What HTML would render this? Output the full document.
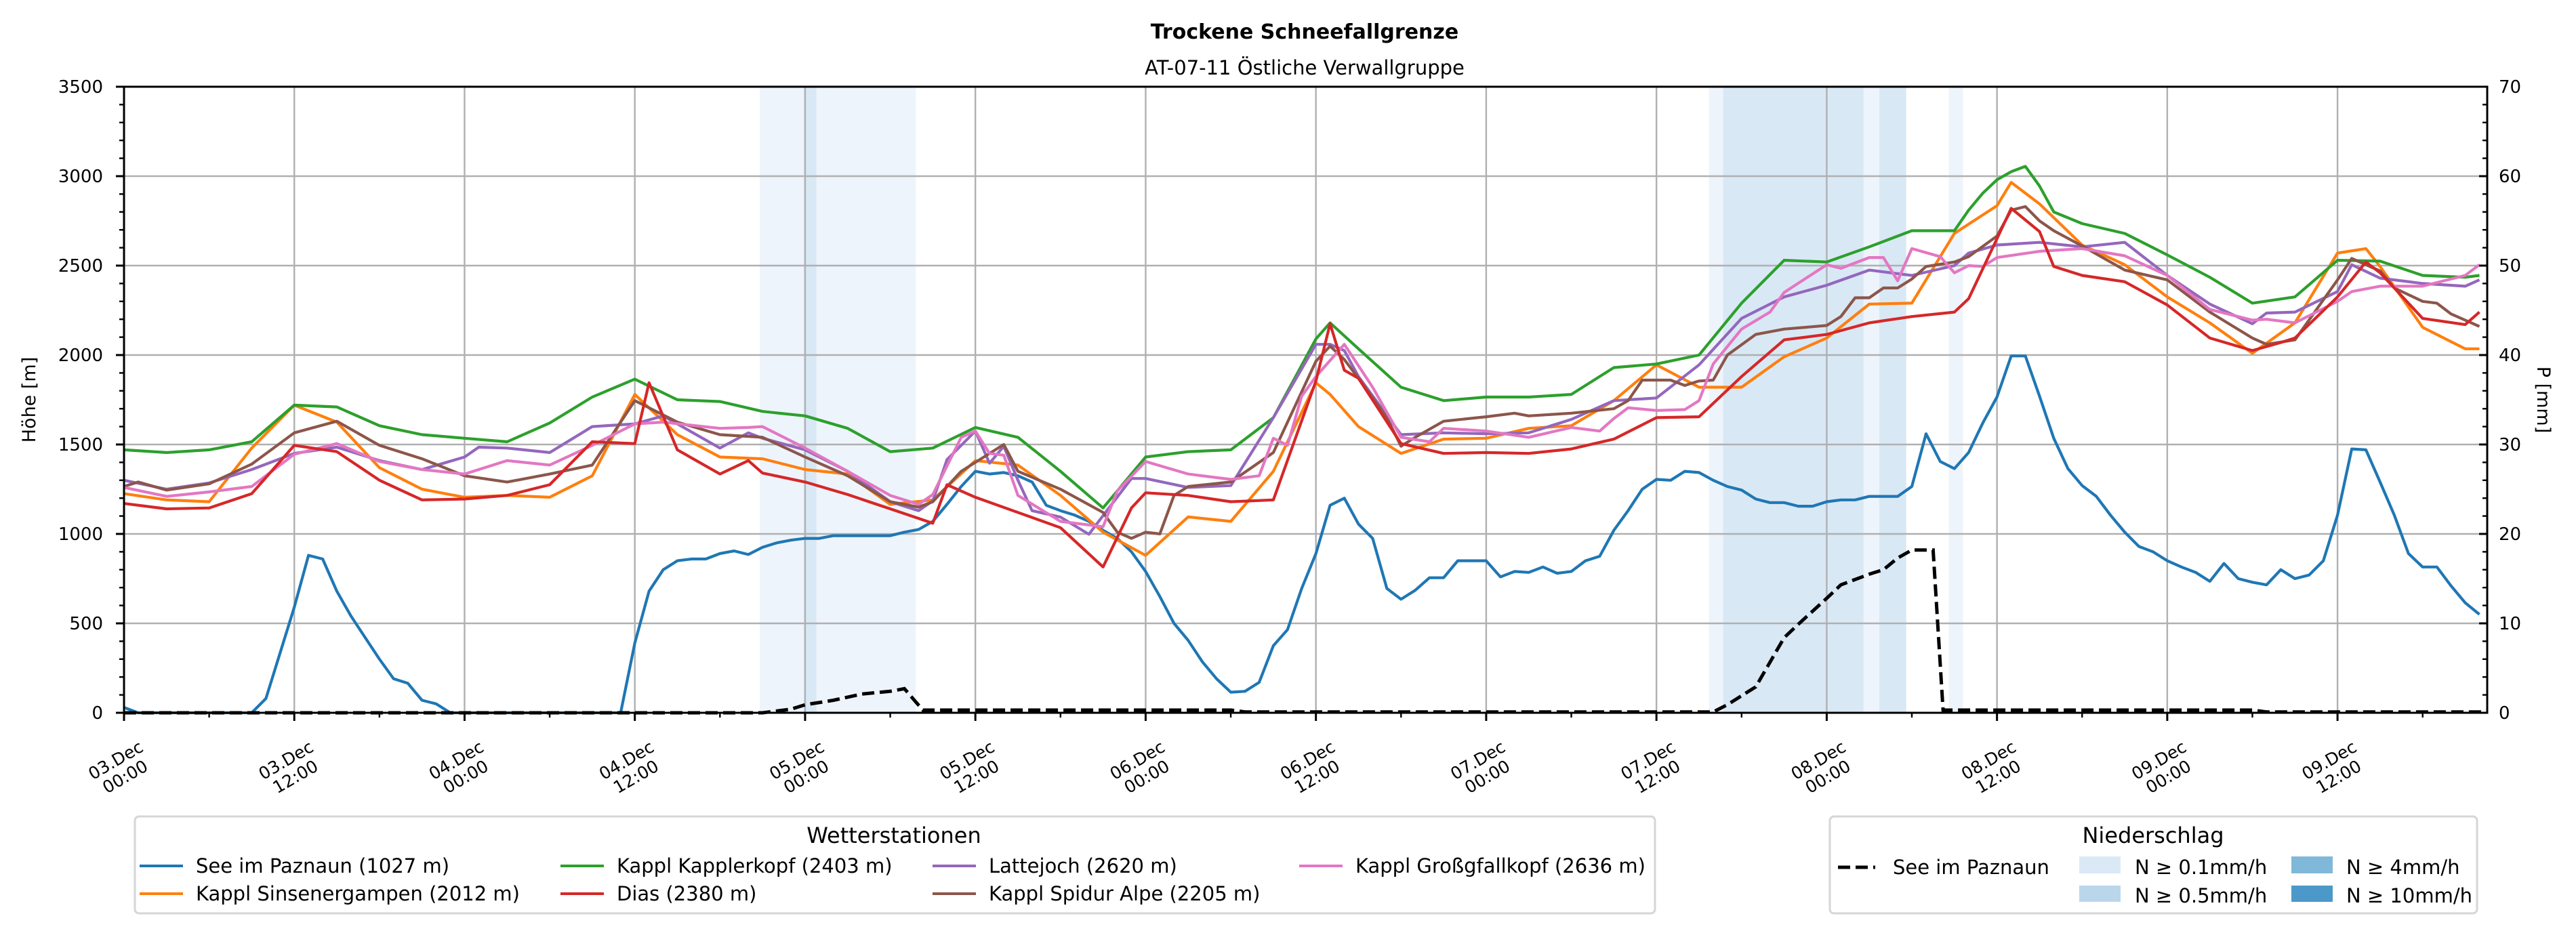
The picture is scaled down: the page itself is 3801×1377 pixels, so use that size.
<!DOCTYPE html>
<html><head><meta charset="utf-8"><style>
html,body{margin:0;padding:0;background:#fff;}
svg{display:block;font-family:"DejaVu Sans","Liberation Sans",sans-serif;}
</style></head><body>
<svg id="chart" width="3801" height="1377" viewBox="0 0 3801 1377" xmlns="http://www.w3.org/2000/svg">
<rect width="3801" height="1377" fill="#fff"/>
<text x="1925" y="57" font-size="30" font-weight="bold" text-anchor="middle">Trockene Schneefallgrenze</text>
<text x="1925" y="110" font-size="29" text-anchor="middle">AT-07-11 Östliche Verwallgruppe</text>
<g id="bands"></g><g id="grid"></g><g id="series"></g><g id="axes"></g>
<text transform="translate(52,590) rotate(-90)" font-size="27" text-anchor="middle">Höhe [m]</text>
<text transform="translate(3744,590) rotate(90)" font-size="27" text-anchor="middle">P [mm]</text>
<g>
<rect x="199" y="1205" width="2243" height="143" rx="6" fill="#fff" stroke="#d6d6d6" stroke-width="3"/>
<text x="1319" y="1244" font-size="32" text-anchor="middle">Wetterstationen</text>
<g font-size="29">
<line x1="206" y1="1278" x2="270" y2="1278" stroke="#1f77b4" stroke-width="4"/><text x="289" y="1288">See im Paznaun (1027 m)</text>
<line x1="206" y1="1319" x2="270" y2="1319" stroke="#ff7f0e" stroke-width="4"/><text x="289" y="1329">Kappl Sinsenergampen (2012 m)</text>
<line x1="827" y1="1278" x2="891" y2="1278" stroke="#2ca02c" stroke-width="4"/><text x="910" y="1288">Kappl Kapplerkopf (2403 m)</text>
<line x1="827" y1="1319" x2="891" y2="1319" stroke="#d62728" stroke-width="4"/><text x="910" y="1329">Dias (2380 m)</text>
<line x1="1376" y1="1278" x2="1440" y2="1278" stroke="#9467bd" stroke-width="4"/><text x="1459" y="1288">Lattejoch (2620 m)</text>
<line x1="1376" y1="1319" x2="1440" y2="1319" stroke="#8c564b" stroke-width="4"/><text x="1459" y="1329">Kappl Spidur Alpe (2205 m)</text>
<line x1="1917" y1="1278" x2="1981" y2="1278" stroke="#e377c2" stroke-width="4"/><text x="2000" y="1288">Kappl Großgfallkopf (2636 m)</text>
</g></g>
<g>
<rect x="2700" y="1205" width="955" height="143" rx="6" fill="#fff" stroke="#d6d6d6" stroke-width="3"/>
<text x="3177" y="1244" font-size="32" text-anchor="middle">Niederschlag</text>
<g font-size="29">
<line x1="2712" y1="1280" x2="2767" y2="1280" stroke="#000" stroke-width="5" stroke-dasharray="18 8"/><text x="2793" y="1290">See im Paznaun</text>
<rect x="3068" y="1264" width="61" height="25" fill="#dbe9f6"/><text x="3150" y="1290">N ≥ 0.1mm/h</text>
<rect x="3068" y="1307" width="61" height="24" fill="#bad6eb"/><text x="3150" y="1332">N ≥ 0.5mm/h</text>
<rect x="3381" y="1264" width="61" height="25" fill="#80b8da"/><text x="3462" y="1290">N ≥ 4mm/h</text>
<rect x="3381" y="1307" width="61" height="24" fill="#4b98c9"/><text x="3462" y="1332">N ≥ 10mm/h</text>
</g></g>
</svg>
<script>
const blueV = [30,0,0,0,0,0,0,0,0,0,80,335,590,880,860,680,540,420,300,190,165,70,50,0,0,0,0,0,0,0,0,0,0,0,0,0,390,680,800,850,860,860,890,905,885,925,950,965,975,975,990,990,990,990,990,1010,1025,1070,1165,1265,1350,1335,1343,1325,1290,1160,1130,1105,1070,1020,975,900,790,650,500,405,285,190,115,120,170,375,465,695,890,1160,1200,1055,975,695,635,685,755,755,850,850,850,760,790,785,815,780,790,850,875,1020,1130,1250,1305,1300,1350,1343,1300,1265,1245,1195,1175,1175,1155,1155,1180,1190,1190,1210,1210,1210,1265,1560,1405,1365,1455,1620,1765,1995,1995,1770,1535,1365,1270,1210,1105,1010,930,900,850,815,785,735,835,750,730,715,800,750,770,850,1105,1475,1470,1290,1105,890,815,815,710,615,550];
const greenH = [0,3,6,9,12,15,18,21,24,27,30,33,36,39,42,45,48,51,54,57,60,63,66,69,72,75,78,81,84,85,87,90,93,96,99,102,105,108,111,114,117,120,123,126,129,130,131,132,133,134,135,136,138,141,144,147,150,153,156,159,162,165,166];
const greenV = [1470,1455,1470,1515,1720,1710,1605,1555,1535,1515,1620,1765,1865,1750,1740,1685,1660,1590,1460,1480,1595,1540,1350,1145,1430,1460,1470,1650,2090,2180,2035,1820,1745,1765,1765,1780,1930,1950,2000,2290,2530,2520,2605,2695,2695,2810,2905,2980,3025,3055,2945,2800,2735,2680,2560,2435,2290,2325,2530,2525,2445,2435,2445];
const orangeH = [0,3,6,9,12,15,18,21,24,27,30,33,36,39,42,45,48,51,54,57,60,63,66,69,72,75,78,81,84,85,87,90,93,96,99,102,105,108,111,114,117,120,123,126,129,132,133,135,138,141,144,147,150,153,156,158,159,162,165,166];
const orangeV = [1225,1190,1180,1480,1720,1625,1370,1250,1205,1215,1205,1325,1780,1555,1430,1420,1360,1335,1165,1190,1410,1385,1215,1010,880,1095,1070,1350,1845,1780,1600,1450,1530,1535,1590,1605,1745,1945,1820,1820,1990,2095,2285,2290,2680,2835,2965,2845,2615,2505,2325,2180,2010,2180,2570,2595,2495,2155,2035,2035];
const redH = [0,3,6,9,12,15,18,21,24,27,30,33,36,37,39,42,44,45,48,51,54,57,58,60,63,66,69,71,72,75,78,81,84,85,86,87,90,93,96,99,102,105,108,111,114,117,120,123,126,129,130,132,133,135,136,138,141,144,147,150,152,153,156,158,159,162,165,166];
const redV = [1170,1140,1145,1225,1495,1460,1300,1190,1195,1215,1275,1515,1505,1845,1470,1335,1410,1340,1290,1220,1140,1060,1275,1205,1120,1035,815,1145,1230,1215,1180,1190,1855,2175,1915,1870,1505,1450,1455,1450,1475,1530,1650,1655,1880,2085,2115,2180,2215,2240,2315,2650,2820,2690,2495,2445,2410,2280,2095,2025,2070,2095,2325,2520,2460,2205,2170,2240];
const purpleH = [0,3,6,9,12,15,18,21,24,25,27,30,33,36,38,42,44,45,48,51,54,56,57,58,60,61,62,63,64,66,68,71,72,75,78,81,84,85,86,87,90,93,96,99,102,105,108,111,114,117,120,123,126,129,130,132,135,138,141,144,147,150,151,153,156,157,159,162,165,166];
const purpleV = [1300,1250,1285,1360,1450,1485,1410,1360,1430,1485,1480,1455,1600,1615,1660,1480,1565,1535,1470,1350,1180,1130,1185,1415,1575,1395,1490,1300,1130,1094,998,1310,1310,1260,1270,1650,2060,2060,2025,1880,1555,1565,1560,1565,1640,1745,1760,1945,2205,2325,2390,2475,2445,2500,2570,2615,2630,2605,2630,2445,2285,2175,2235,2240,2355,2505,2430,2400,2385,2420];
const brownH = [0,1,3,6,9,12,15,18,21,24,27,30,33,36,39,42,45,48,51,54,56,57,59,60,62,63,66,69,70,71,72,73,74,75,78,81,84,85,86,87,89,90,91,93,96,98,99,102,105,106,107,108,109,110,111,112,113,115,117,120,121,122,123,124,125,126,127,129,130,132,133,134,135,136,138,141,144,147,150,151,153,156,157,159,160,162,163,164,165,166];
const brownV = [1265,1290,1245,1280,1390,1565,1630,1495,1420,1325,1290,1335,1385,1745,1625,1555,1540,1430,1325,1180,1150,1180,1350,1400,1500,1350,1250,1120,1010,975,1010,1000,1215,1265,1290,1455,1965,2050,1975,1870,1650,1490,1540,1630,1655,1675,1660,1675,1700,1745,1860,1860,1860,1830,1855,1860,2000,2115,2145,2165,2215,2320,2320,2375,2375,2425,2495,2520,2550,2665,2810,2830,2750,2695,2610,2475,2420,2240,2095,2060,2085,2420,2540,2470,2375,2300,2290,2230,2195,2160];
const pinkH = [0,3,6,9,12,15,18,21,24,27,30,33,36,38,42,44,45,48,51,54,56,57,59,60,61,62,63,66,69,70,72,75,78,80,81,82,83,84,86,87,88,90,92,93,96,99,102,104,105,106,108,110,111,112,114,116,117,120,121,123,124,125,126,128,129,130,131,132,135,138,141,144,147,150,151,153,156,157,159,162,165,166];
const pinkV = [1260,1210,1235,1265,1445,1505,1405,1360,1335,1410,1385,1495,1615,1625,1590,1595,1600,1480,1350,1215,1165,1220,1540,1575,1450,1440,1215,1070,1040,1240,1405,1335,1305,1325,1535,1495,1770,1880,2060,1940,1820,1540,1515,1590,1575,1540,1595,1575,1645,1705,1690,1695,1745,1950,2145,2240,2350,2505,2485,2545,2545,2415,2595,2550,2460,2500,2495,2545,2580,2595,2555,2445,2255,2195,2200,2180,2300,2355,2385,2385,2445,2505];
const precipH = [0,45,47,48,50,52,54,55,56.3,78,79,111,112,113,115,117,118,120,121,123,124,125,126,127.5,128.2,150,151,166.6];
const precipV = [0,0,0.4,0.9,1.4,2.1,2.4,2.7,0.3,0.3,0.1,0.1,0.1,0.9,2.9,8.4,9.9,12.8,14.3,15.5,16,17.3,18.2,18.2,0.3,0.3,0.1,0.1];
const bandStart = [44.8,47.9,111.7,112.7,122.6,123.7,128.6];
const bandEnd = [55.8,48.8,112.7,122.6,123.7,125.6,129.6];
const bandLevel = [0,1,0,1,0,1,0];
const yTicks = [0,500,1000,1500,2000,2500,3000,3500];
const y2Ticks = [0,10,20,30,40,50,60,70];
const xTickLabels = [["03.Dec","00:00"],["03.Dec","12:00"],["04.Dec","00:00"],["04.Dec","12:00"],["05.Dec","00:00"],["05.Dec","12:00"],["06.Dec","00:00"],["06.Dec","12:00"],["07.Dec","00:00"],["07.Dec","12:00"],["08.Dec","00:00"],["08.Dec","12:00"],["09.Dec","00:00"],["09.Dec","12:00"]];

const X0=183, X1=3670, Y0=1052, Y1=128, HMAX=166.55;
const NS='http://www.w3.org/2000/svg';
function xs(h){return X0+(h/HMAX)*(X1-X0);}
function ys(v){return Y0-(v/3500)*(Y0-Y1);}
function ys2(p){return Y0-(p/70)*(Y0-Y1);}
function mk(tag,attrs,parent){const e=document.createElementNS(NS,tag);for(const k in attrs)e.setAttribute(k,attrs[k]);parent.appendChild(e);return e;}
const gB=document.getElementById('bands'),gG=document.getElementById('grid'),gS=document.getElementById('series'),gA=document.getElementById('axes');
const bandColors=['#eef4fb','#d9e8f5'];
for(let i=0;i<bandStart.length;i++){
  const r=mk('rect',{x:xs(bandStart[i]),y:Y1,width:xs(bandEnd[i])-xs(bandStart[i]),height:Y0-Y1,fill:bandColors[bandLevel[i]]},gB);
  
  
}
yTicks.forEach(v=>{const l=mk('line',{x1:X0,x2:X1,y1:ys(v),y2:ys(v),stroke:'#b0b0b0','stroke-width':2.4},gG);
  
  });
xTickLabels.forEach((t,i)=>{const l=mk('line',{x1:xs(i*12),x2:xs(i*12),y1:Y0,y2:Y1,stroke:'#b0b0b0','stroke-width':2.4},gG);
  
  });
function path(H,V,f){return H.map((h,i)=>(i?'L':'M')+xs(h).toFixed(1)+','+f(V[i]).toFixed(1)).join('');}
const seriesList=[[orangeH,orangeV,'#ff7f0e','line-sinsenergampen'],[greenH,greenV,'#2ca02c','line-kapplerkopf'],[purpleH,purpleV,'#9467bd','line-lattejoch'],[brownH,brownV,'#8c564b','line-spidur-alpe'],[pinkH,pinkV,'#e377c2','line-grossgfallkopf'],[redH,redV,'#d62728','line-dias']];
const blueH=blueV.map((v,i)=>i);
const pb=mk('path',{d:path(blueH,blueV,ys),fill:'none',stroke:'#1f77b4','stroke-width':4.2,'stroke-linejoin':'round'},gS);


seriesList.forEach(s=>{const n=Math.min(s[0].length,s[1].length);
  const p=mk('path',{d:path(s[0].slice(0,n),s[1].slice(0,n),ys),fill:'none',stroke:s[2],'stroke-width':4.2,'stroke-linejoin':'round'},gS);
  
  });
const pp=mk('path',{d:path(precipH,precipV,ys2),fill:'none',stroke:'#000','stroke-width':5,'stroke-dasharray':'18 8'},gS);


mk('rect',{x:X0,y:Y1,width:X1-X0,height:Y0-Y1,fill:'none',stroke:'#000','stroke-width':3},gA);
for(let v=0;v<=3500;v+=100){const maj=v%500===0;mk('line',{x1:X0-(maj?12:7),x2:X0,y1:ys(v),y2:ys(v),stroke:'#000','stroke-width':maj?3:2.4},gA);}
yTicks.forEach(v=>{const t=mk('text',{x:152,y:ys(v)+9,'font-size':26,'text-anchor':'end'},gA);t.textContent=v;
  
  });
for(let p=0;p<=70;p+=2){const maj=p%10===0;mk('line',{x1:X1-(maj?12:7),x2:X1,y1:ys2(p),y2:ys2(p),stroke:'#000','stroke-width':maj?3:2.4},gA);}
y2Ticks.forEach(p=>{const t=mk('text',{x:3687,y:ys2(p)+9,'font-size':26},gA);t.textContent=p;
  
  });
for(let h=0;h<=HMAX;h+=6){const maj=h%12===0;mk('line',{x1:xs(h),x2:xs(h),y1:Y0,y2:Y0+(maj?12:7),stroke:'#000','stroke-width':maj?3:2.4},gA);}
xTickLabels.forEach((t,i)=>{const cx=xs(i*12)-6,cy=1133;
  const tx=mk('text',{transform:`translate(${cx},${cy}) rotate(-30)`,'font-size':25,'text-anchor':'middle'},gA);
  
  
  mk('tspan',{x:0,y:-4},tx).textContent=t[0];
  mk('tspan',{x:0,y:24},tx).textContent=t[1];});
</script>
</body></html>
